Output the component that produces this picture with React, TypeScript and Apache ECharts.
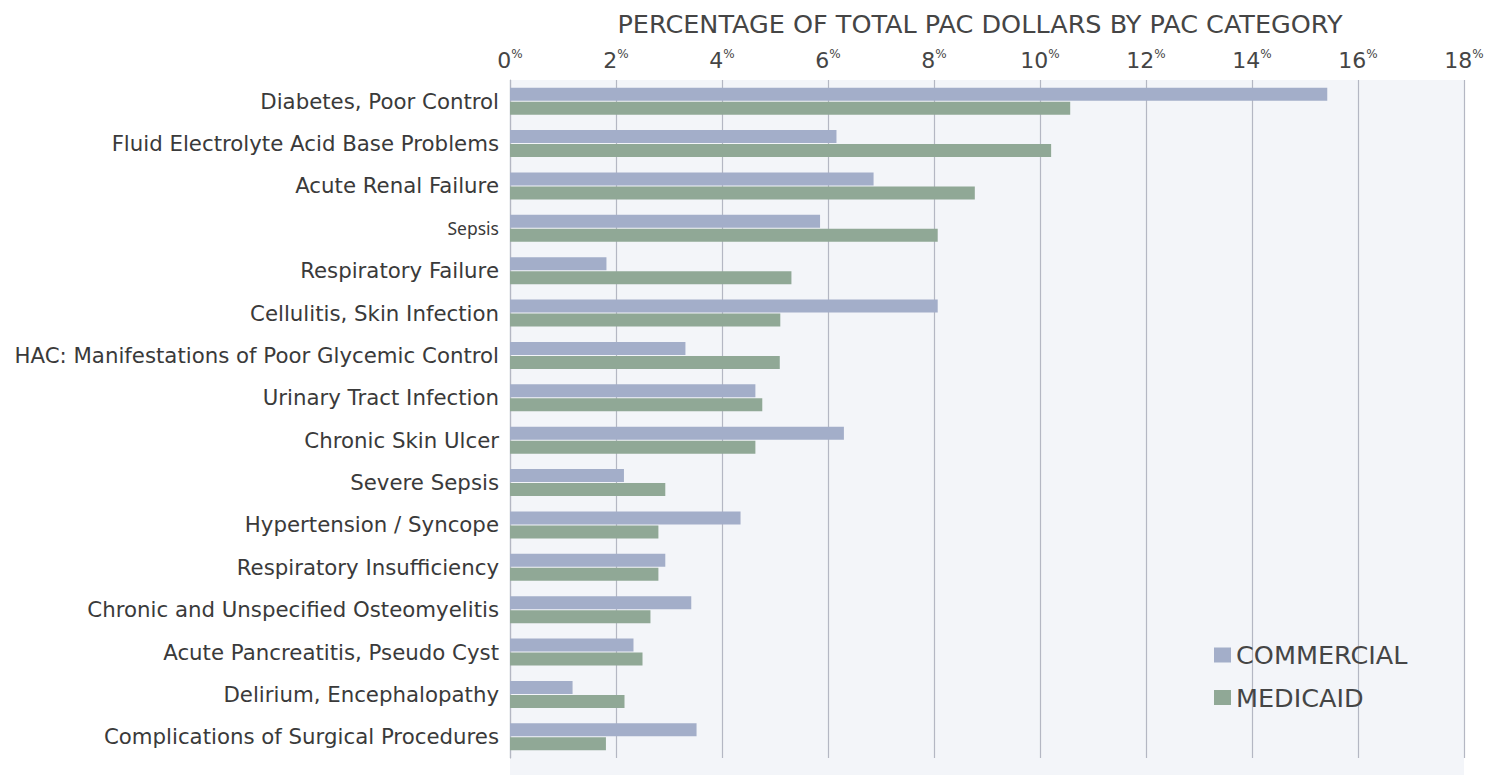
import React, { useEffect, useRef } from "react";
import * as echarts from "echarts";

const categories = [
  "Diabetes, Poor Control",
  "Fluid Electrolyte Acid Base Problems",
  "Acute Renal Failure",
  "Sepsis",
  "Respiratory Failure",
  "Cellulitis, Skin Infection",
  "HAC: Manifestations of Poor Glycemic Control",
  "Urinary Tract Infection",
  "Chronic Skin Ulcer",
  "Severe Sepsis",
  "Hypertension / Syncope",
  "Respiratory Insufficiency",
  "Chronic and Unspecified Osteomyelitis",
  "Acute Pancreatitis, Pseudo Cyst",
  "Delirium, Encephalopathy",
  "Complications of Surgical Procedures",
];

const commercial = [15.42, 6.16, 6.86, 5.85, 1.82, 8.07, 3.31, 4.63, 6.3, 2.15, 4.35, 2.93, 3.42, 2.33, 1.18, 3.52];
const medicaid = [10.57, 10.21, 8.77, 8.07, 5.31, 5.1, 5.09, 4.76, 4.63, 2.93, 2.8, 2.8, 2.65, 2.5, 2.16, 1.81];

const seriesNames = ["COMMERCIAL", "MEDICAID"];
const titleText = "PERCENTAGE OF TOTAL PAC DOLLARS BY PAC CATEGORY";

const FONT = "'DejaVu Sans', sans-serif";

export default function App() {
  const ref = useRef<HTMLDivElement>(null);
  useEffect(() => {
    if (!ref.current) return;
    const chart = echarts.init(ref.current, null, { renderer: "svg" });
    chart.setOption({
      animation: false,
      backgroundColor: "#ffffff",
      textStyle: { fontFamily: FONT },
      title: {
        text: titleText,
        left: 975,
        textAlign: "center",
        top: 6,
        textStyle: { fontSize: 25.5, fontWeight: "normal", color: "#454545", fontFamily: FONT },
      },
      legend: {
        orient: "vertical",
        left: 1209,
        top: 637,
        itemWidth: 17,
        itemHeight: 15,
        itemGap: 16.5,
        icon: "rect",
        data: seriesNames,
        textStyle: { fontSize: 25.5, color: "#454545", fontFamily: FONT, padding: [0, 0, 0, 0] },
      },
      graphic: [
        {
          type: "rect",
          shape: { x: 510, y: 755, width: 954, height: 20 },
          style: { fill: "#f3f5f9" },
          z: -1,
          silent: true,
        },
      ],
      grid: {
        left: 510,
        right: 26,
        top: 80,
        height: 678,
        show: true,
        backgroundColor: "#f3f5f9",
        borderWidth: 0,
      },
      xAxis: {
        type: "value",
        position: "top",
        min: 0,
        max: 18,
        interval: 2,
        axisLine: { show: false },
        axisTick: { show: false },
        splitLine: { show: true, lineStyle: { color: "#b4b7c3", width: 1.2 } },
        axisLabel: {
          margin: 8,
          formatter: (v: number) => `{n|${v}}{p|%}`,
          rich: {
            n: { fontSize: 22, color: "#454545", fontFamily: FONT, lineHeight: 24 },
            p: { fontSize: 12, color: "#454545", fontFamily: FONT, verticalAlign: "top", lineHeight: 14 },
          },
        },
      },
      yAxis: {
        type: "category",
        inverse: true,
        data: categories,
        axisLine: { show: true, lineStyle: { color: "#b4b7c3", width: 1.2 } },
        axisTick: { show: false },
        axisLabel: {
          margin: 11,
          fontSize: 21.3,
          color: "#3a3a3a",
          fontFamily: FONT,
          formatter: (v: string) => (v === "Sepsis" ? `{s|${v}}` : v),
          rich: {
            s: { fontSize: 17.5, color: "#3a3a3a", fontFamily: "'Noto Sans', sans-serif" },
          },
        },
      },
      series: [
        {
          name: seriesNames[0],
          type: "bar",
          data: commercial,
          barWidth: 13,
          barGap: "8%",
          itemStyle: { color: "#a3aec9" },
        },
        {
          name: seriesNames[1],
          type: "bar",
          data: medicaid,
          barWidth: 13,
          barGap: "8%",
          itemStyle: { color: "#90a896" },
        },
      ],
    });
    return () => chart.dispose();
  }, []);
  return <div ref={ref} style={{ width: 1490, height: 775, position: "absolute", left: 0, top: 0 }} />;
}
